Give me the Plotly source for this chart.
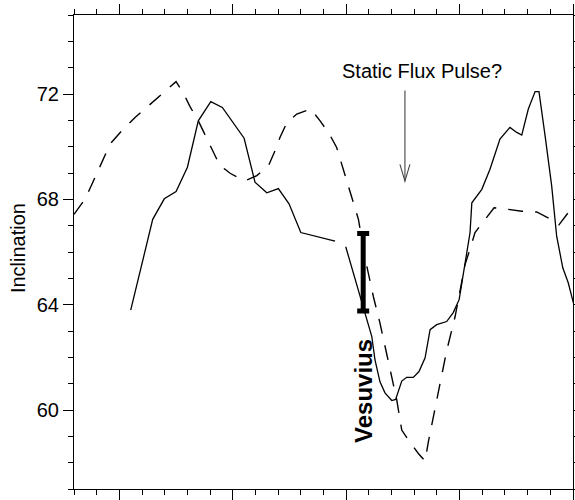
import plotly.graph_objects as go

# ---- data (x in arbitrary time units: minor tick = 1, major tick = 5) ----
solid_x = [0.50, 1.47, 1.98, 2.50, 3.00, 3.48, 4.03, 4.54, 5.50, 5.98, 6.50, 7.01, 7.48, 8.00, 9.51,
           None,
           9.98, 10.61, 10.90, 11.13, 11.27, 11.49, 11.71, 12.01, 12.18, 12.45, 12.67, 12.96, 13.21,
           13.48, 13.70, 13.99, 14.43, 14.72, 14.98, 15.24, 15.46, 15.54, 15.98, 16.34, 16.78, 17.22,
           17.52, 17.74, 18.03, 18.33, 18.50, 18.77, 19.06, 19.28, 19.55, 19.79, 20.02]
solid_y = [63.79, 67.24, 68.02, 68.30, 69.22, 70.98, 71.71, 71.49, 70.32, 68.65, 68.25, 68.41, 67.83, 66.74, 66.41,
           None,
           66.20, 64.32, 63.55, 62.79, 61.90, 61.07, 60.65, 60.36, 60.40, 61.10, 61.24, 61.24, 61.46,
           61.98, 63.05, 63.24, 63.36, 63.70, 64.19, 65.52, 66.73, 67.87, 68.38, 69.14, 70.29, 70.73,
           70.54, 70.44, 71.43, 72.09, 72.09, 70.41, 68.51, 66.60, 65.40, 64.83, 64.06]

dashed_x = [-2.00, -1.52, -1.21, -0.71, -0.41, 0.10, 0.69, 1.28, 1.82, 2.50, 2.82, 3.11, 3.48, 4.07,
            4.44, 4.66, 4.88, 5.54, 6.06, 6.57, 6.86, 7.08, 7.38, 7.82, 8.44, 8.85, 9.26, 9.58, 9.76,
            9.95, 10.14, 10.31, 10.54, 10.83, 11.20, 11.49, 11.86, 12.23, 12.45, 12.74, 13.18, 13.48,
            13.62, 13.99, 14.43, 14.80, 15.24, 15.48, 15.68, 16.05, 16.52, 17.15, 17.74, 18.40, 19.03,
            19.38, 20.00]
dashed_y = [67.43, 68.00, 68.57, 69.52, 70.10, 70.60, 71.11, 71.55, 71.96, 72.47, 72.04, 71.53, 70.98, 69.93,
            69.27, 69.14, 68.99, 68.70, 68.90, 69.27, 69.84, 70.35, 70.90, 71.24, 71.43, 70.98, 70.48, 69.97, 69.46,
            68.91, 68.38, 67.81, 67.24, 65.78, 64.30, 63.30, 61.90, 60.38, 59.24, 58.86, 58.35, 58.06,
            58.78, 60.38, 62.25, 63.54, 65.52, 66.17, 66.74, 67.15, 67.68, 67.62, 67.55, 67.52, 67.24,
            67.03, 67.73]

vesuvius_x = [10.75]
vesuvius_y = [65.23]
vesuvius_err = [1.47]

y_tickvals = [60, 64, 68, 72]
y_ticktext = ["60", "64", "68", "72"]
x_tickvals = [0, 5, 10, 15, 20]

FONT = "Liberation Sans, Arial, Helvetica, sans-serif"

fig = go.Figure()

fig.add_trace(go.Scatter(x=dashed_x, y=dashed_y, mode="lines",
                         line=dict(color="black", width=1.4, dash="15px,12px"),
                         showlegend=False, hoverinfo="skip"))
fig.add_trace(go.Scatter(x=solid_x, y=solid_y, mode="lines", connectgaps=False,
                         line=dict(color="black", width=1.3),
                         showlegend=False, hoverinfo="skip"))
fig.add_trace(go.Scatter(x=vesuvius_x, y=vesuvius_y, mode="markers",
                         marker=dict(size=1, opacity=0),
                         error_y=dict(type="data", array=vesuvius_err, visible=True,
                                      color="black", thickness=5, width=6),
                         showlegend=False, hoverinfo="skip"))

# arrow for "Static Flux Pulse?"
ax, ay_tail, ay_tip = 12.59, 72.13, 68.69
fig.add_shape(type="line", xref="x", yref="y", x0=ax, x1=ax, y0=ay_tail, y1=ay_tip,
              line=dict(color="#444444", width=1.1))
fig.add_shape(type="path", xref="x", yref="y",
              path=f"M {ax-0.22},{ay_tip+0.64} L {ax},{ay_tip} L {ax+0.22},{ay_tip+0.64}",
              line=dict(color="#444444", width=1.1))

fig.add_annotation(x=13.34, y=72.86, xref="x", yref="y", text="Static Flux Pulse?",
                   showarrow=False, font=dict(family=FONT, size=20, color="black"))
fig.add_annotation(x=10.76, y=60.74, xref="x", yref="y", text="<b>Vesuvius</b>",
                   textangle=-90, showarrow=False,
                   font=dict(family=FONT, size=24, color="black"))
fig.add_annotation(x=(17.9 - 74) / 499, y=0.508, xref="paper", yref="paper",
                   text="Inclination", textangle=-90, showarrow=False,
                   xanchor="center", yanchor="middle",
                   font=dict(family=FONT, size=20, color="black"))

fig.update_layout(
    width=575, height=500,
    margin=dict(l=74, r=2, t=15, b=11, autoexpand=False),
    paper_bgcolor="white", plot_bgcolor="white",
    showlegend=False,
    font=dict(family=FONT, size=20, color="black"),
    xaxis=dict(range=[-2, 20], tickmode="array", tickvals=x_tickvals, automargin=False,
               showticklabels=False, ticks="outside", ticklen=10, tickwidth=1.2,
               tickcolor="black", showline=True, linecolor="black", linewidth=1.2,
               mirror="ticks", showgrid=False, zeroline=False,
               minor=dict(dtick=1, tick0=0, ticks="outside", ticklen=5,
                          tickwidth=1.1, tickcolor="black", showgrid=False)),
    yaxis=dict(range=[57, 75], tickmode="array", tickvals=y_tickvals, ticktext=y_ticktext,
               automargin=False,
               ticks="outside", ticklen=10, tickwidth=1.2, tickcolor="black",
               showline=True, linecolor="black", linewidth=1.2, mirror="ticks",
               showgrid=False, zeroline=False,
               tickfont=dict(family=FONT, size=20, color="black"),
               minor=dict(dtick=1, tick0=0, ticks="outside", ticklen=5,
                          tickwidth=1.1, tickcolor="black", showgrid=False)),
)

fig.write_html("out.html")
